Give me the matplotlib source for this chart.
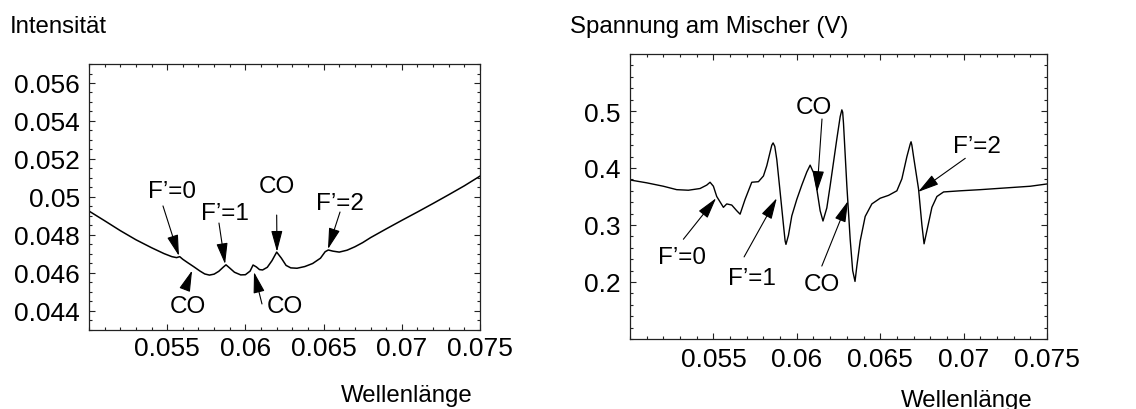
import matplotlib
matplotlib.use("Agg")
import matplotlib.pyplot as plt
from matplotlib.ticker import MultipleLocator, FuncFormatter

plt.rcParams['font.family'] = ['Liberation Sans', 'DejaVu Sans']

# ======================
# DATA: left panel (Intensitaet)
# ======================
wl_left = [0.0500, 0.0510, 0.0520, 0.0530, 0.0540, 0.0548, 0.0553, 0.0556, 0.0558,
           0.0560, 0.0563, 0.0567, 0.0571, 0.0574, 0.0577, 0.0580, 0.0583, 0.0586,
           0.05876, 0.0590, 0.0593, 0.0597, 0.0600, 0.0603, 0.06049, 0.0607, 0.0609,
           0.0611, 0.0614, 0.0617, 0.0620, 0.0623, 0.0626, 0.0629, 0.0633, 0.0638,
           0.0643, 0.0648, 0.0651, 0.0653, 0.0656, 0.0660, 0.0665, 0.0670, 0.0675,
           0.0680, 0.0690, 0.0700, 0.0710, 0.0720, 0.0730, 0.0740, 0.0750]
intens = [0.04926, 0.04875, 0.04823, 0.04775, 0.04733, 0.04702, 0.04686, 0.04681, 0.04686,
          0.04672, 0.04655, 0.04633, 0.04610, 0.04595, 0.04589, 0.04594, 0.04609, 0.04632,
          0.04643, 0.04626, 0.04604, 0.04590, 0.04591, 0.04610, 0.04642, 0.04632, 0.04618,
          0.04616, 0.04630, 0.04665, 0.04710, 0.04678, 0.04640, 0.04627, 0.04625, 0.04634,
          0.04650, 0.04678, 0.04712, 0.04721, 0.04715, 0.04710, 0.04720, 0.04738, 0.04760,
          0.04786, 0.04832, 0.04877, 0.04921, 0.04966, 0.05012, 0.05059, 0.05110]

# ======================
# DATA: right panel (Spannung am Mischer)
# ======================
wl_right = [0.0500, 0.0510, 0.0520, 0.0528, 0.0535, 0.0542, 0.0546, 0.0548, 0.0550,
            0.0552, 0.0556, 0.0558, 0.0561, 0.0564, 0.0566, 0.0569, 0.0573, 0.0577,
            0.0580, 0.0582, 0.0584, 0.0585, 0.05858, 0.05868, 0.0588, 0.0590, 0.0592,
            0.0593, 0.05935, 0.0595, 0.0597, 0.0600, 0.0603, 0.0606, 0.0608, 0.0610,
            0.0612, 0.0614, 0.06157, 0.0618, 0.0620, 0.0622, 0.0624, 0.0626, 0.0627,
            0.06275, 0.0628, 0.0630, 0.0632, 0.06335, 0.06349, 0.0636, 0.0638, 0.0641,
            0.0645, 0.0650, 0.0655, 0.0660, 0.0663, 0.0666, 0.0668, 0.06685, 0.0669,
            0.0670, 0.0673, 0.0675, 0.06763, 0.0678, 0.0681, 0.0684, 0.0688, 0.0698,
            0.0710, 0.0720, 0.0730, 0.0740, 0.0750]
volt = [0.379, 0.374, 0.368, 0.362, 0.361, 0.364, 0.370, 0.375, 0.368,
        0.350, 0.331, 0.337, 0.335, 0.325, 0.319, 0.345, 0.375, 0.376,
        0.386, 0.404, 0.428, 0.440, 0.444, 0.438, 0.415, 0.358, 0.300,
        0.272, 0.266, 0.282, 0.316, 0.345, 0.370, 0.393, 0.405, 0.392,
        0.363, 0.325, 0.307, 0.330, 0.369, 0.410, 0.451, 0.490, 0.502,
        0.498, 0.478, 0.369, 0.275, 0.220, 0.201, 0.228, 0.272, 0.315,
        0.337, 0.347, 0.352, 0.360, 0.381, 0.420, 0.442, 0.446, 0.440,
        0.420, 0.363, 0.300, 0.267, 0.290, 0.331, 0.350, 0.358, 0.360,
        0.362, 0.364, 0.366, 0.368, 0.372]

# annotations: (label, text position, arrow start, arrow tip)
notes_left = [
    ("F’=0", (0.05531, 0.05032), (0.05473, 0.04953), (0.05575, 0.04690)),
    ("F’=1", (0.05870, 0.04916), (0.05831, 0.04863), (0.05870, 0.04647)),
    ("CO",   (0.06202, 0.05058), (0.06200, 0.04905), (0.06202, 0.04712)),
    ("F’=2", (0.06605, 0.04968), (0.06605, 0.04921), (0.06528, 0.04726)),
    ("CO",   (0.05633, 0.04426), (0.05614, 0.04516), (0.05659, 0.04613)),
    ("CO",   (0.06253, 0.04426), (0.06106, 0.04437), (0.06055, 0.04605)),
]
notes_right = [
    ("F’=0", (0.0531, 0.244), (0.0532, 0.275), (0.05516, 0.347)),
    ("F’=1", (0.0573, 0.207), (0.05684, 0.244), (0.0588, 0.347)),
    ("CO",   (0.06103, 0.507), (0.06151, 0.486), (0.06121, 0.358)),
    ("CO",   (0.0615, 0.196), (0.0615, 0.228), (0.06307, 0.342)),
    ("F’=2", (0.0708, 0.439), (0.0701, 0.417), (0.06727, 0.358)),
]

W, H = 1136, 410
fig = plt.figure(figsize=(W / 100, H / 100), dpi=100)

ax1 = fig.add_axes([89 / W, 1 - 331 / H, 391 / W, 266 / H])
ax2 = fig.add_axes([630 / W, 1 - 340 / H, 417 / W, 285 / H])

fmt = FuncFormatter(lambda v, p: "%g" % round(v, 4))


def style(ax, xpad, ypad):
    ax.set_xlim(0.05, 0.075)
    ax.xaxis.set_minor_locator(MultipleLocator(0.001))
    ax.set_xticks([0.055, 0.06, 0.065, 0.07, 0.075])
    ax.xaxis.set_major_formatter(fmt)
    ax.yaxis.set_major_formatter(fmt)
    ax.tick_params(which='both', direction='in', top=True, right=True,
                   labelsize=19, width=0.8, color='#222222')
    ax.tick_params(which='major', length=4)
    ax.tick_params(which='minor', length=2.2)
    ax.tick_params(axis='x', pad=xpad)
    ax.tick_params(axis='y', pad=ypad)
    for s in ax.spines.values():
        s.set_linewidth(0.9)
        s.set_color('#222222')


def annotate(ax, notes):
    for txt, tpos, start, tip in notes:
        ax.text(tpos[0], tpos[1], txt, fontsize=17.5, ha='center', va='center')
        ax.annotate("", xy=tip, xytext=start,
                    arrowprops=dict(arrowstyle='-|>,head_length=1.3,head_width=0.35',
                                    mutation_scale=10, lw=0.8, color='k',
                                    shrinkA=0, shrinkB=0))


# left panel
ax1.plot(wl_left, intens, color='k', lw=1.1)
ax1.set_ylim(0.043, 0.057)
ax1.set_yticks([0.044, 0.046, 0.048, 0.05, 0.052, 0.054, 0.056])
ax1.yaxis.set_minor_locator(MultipleLocator(0.0005))
style(ax1, 4.5, 6.5)
annotate(ax1, notes_left)

# right panel
ax2.plot(wl_right, volt, color='k', lw=1.0)
ax2.set_ylim(0.1, 0.6)
ax2.set_yticks([0.2, 0.3, 0.4, 0.5])
ax2.yaxis.set_minor_locator(MultipleLocator(0.02))
style(ax2, 6, 6.5)
annotate(ax2, notes_right)

# axis titles like Mathematica AxesLabel
fig.text(10 / W, 1 - 33 / H, "Intensität", fontsize=17.3, va='baseline')
fig.text(570 / W, 1 - 33 / H, "Spannung am Mischer (V)", fontsize=17.3, va='baseline')
fig.text(407 / W, 1 - 402 / H, "Wellenlänge", fontsize=17.3, ha='center', va='baseline')
fig.text(967 / W, 1 - 407 / H, "Wellenlänge", fontsize=17.3, ha='center', va='baseline')

fig.savefig("out.png", dpi=100)
